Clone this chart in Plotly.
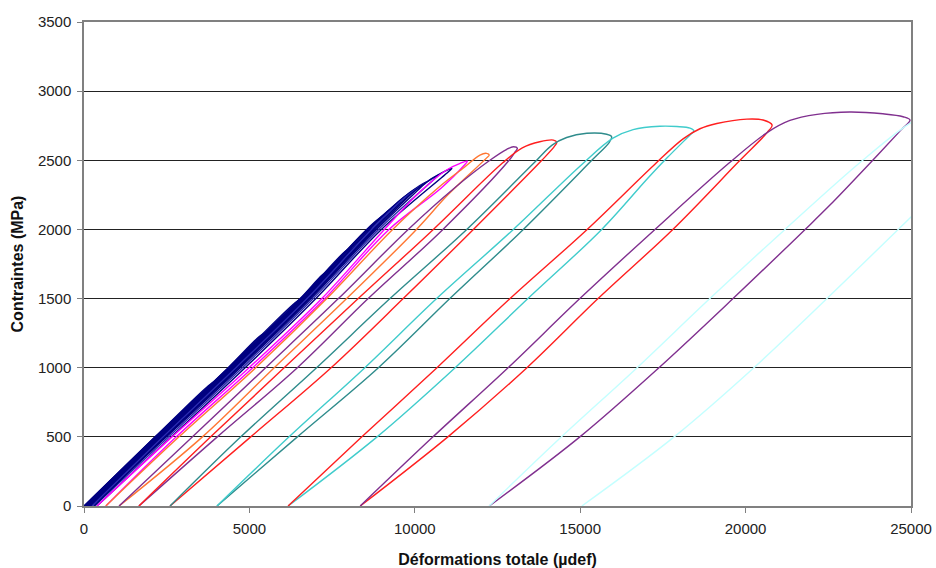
import plotly.graph_objects as go

# Cyclic loading / unloading curves: total strain (µdef) vs stress (MPa).
# Each cycle = reloading branch up to the peak, then unloading branch to the new residual strain.

# --- small early cycles (navy) ---
c01_eps = [0, 2150, 3760, 3940, 3880, 2260, 10]
c01_sig = [0, 500, 870, 900, 880, 500, 0]
c02_eps = [10, 2160, 4360, 5300, 5475, 5420, 4500, 2270, 20]
c02_sig = [0, 500, 1000, 1225, 1250, 1232, 1000, 500, 0]
c03_eps = [20, 2170, 4370, 6380, 6570, 6510, 4515, 2285, 35]
c03_sig = [0, 500, 1000, 1470, 1500, 1482, 1000, 500, 0]
c04_eps = [35, 2185, 4385, 6535, 7200, 7385, 7325, 6670, 4530, 2300, 50]
c04_sig = [0, 500, 1000, 1500, 1670, 1700, 1682, 1500, 1000, 500, 0]
c05_eps = [50, 2200, 4400, 6550, 7890, 8090, 8030, 6690, 4550, 2320, 70]
c05_sig = [0, 500, 1000, 1500, 1840, 1870, 1852, 1500, 1000, 500, 0]
c06_eps = [70, 2220, 4420, 6570, 8480, 8680, 8620, 6715, 4575, 2345, 95]
c06_sig = [0, 500, 1000, 1500, 1980, 2010, 1992, 1500, 1000, 500, 0]
c07_eps = [95, 2245, 4445, 6595, 8545, 8930, 9140, 9080, 8725, 6745, 4605, 2375, 125]
c07_sig = [0, 500, 1000, 1500, 2000, 2080, 2110, 2092, 2000, 1500, 1000, 500, 0]
c08_eps = [125, 2275, 4475, 6625, 8575, 9350, 9565, 9500, 8760, 6780, 4640, 2410, 160]
c08_sig = [0, 500, 1000, 1500, 2000, 2165, 2200, 2182, 2000, 1500, 1000, 500, 0]
c09_eps = [160, 2310, 4510, 6660, 8610, 9500, 9850, 10060, 9990, 8800, 6820, 4680, 2450, 200]
c09_sig = [0, 500, 1000, 1500, 2000, 2200, 2265, 2297, 2280, 2000, 1500, 1000, 500, 0]
c10_eps = [200, 2350, 4550, 6700, 8650, 9600, 10140, 10360, 10290, 8845, 6865, 4725, 2495, 245]
c10_sig = [0, 500, 1000, 1500, 2000, 2220, 2315, 2345, 2328, 2000, 1500, 1000, 500, 0]
c11_eps = [245, 2395, 4595, 6745, 8695, 9700, 10470, 10710, 10640, 8910, 6930, 4790, 2560, 310]
c11_sig = [0, 500, 1000, 1500, 2000, 2230, 2360, 2393, 2375, 2000, 1500, 1000, 500, 0]
c12_eps = [310, 2460, 4660, 6810, 8760, 9800, 10500, 10900, 11120, 11050, 8990, 7010, 4870, 2640, 390]
c12_sig = [0, 500, 1000, 1500, 2000, 2240, 2365, 2420, 2442, 2424, 2000, 1500, 1000, 500, 0]

# --- larger cycles ---
c13_eps = [390, 2660, 4990, 7190, 9080, 10150, 10960, 11370, 11590, 11480, 10800, 9220, 7280, 5100, 2790, 660]
c13_sig = [0, 500, 1000, 1500, 2000, 2270, 2430, 2478, 2494, 2460, 2300, 2000, 1500, 1000, 500, 0]
c14_eps = [660, 2870, 5190, 7340, 9330, 10700, 11500, 11970, 12170, 12250, 12150, 11000, 10050, 7940, 5750, 3580, 1060]
c14_sig = [0, 500, 1000, 1500, 2000, 2300, 2450, 2538, 2550, 2538, 2512, 2250, 2000, 1500, 1000, 500, 0]
c15_eps = [1060, 3280, 5490, 7690, 9800, 11200, 12270, 12780, 12980, 13100, 13030, 12850, 10850, 8590, 6450, 4030, 1660]
c15_sig = [0, 500, 1000, 1500, 2000, 2300, 2500, 2579, 2598, 2586, 2560, 2500, 2000, 1500, 1000, 500, 0]
c16_eps = [1660, 3830, 6050, 8290, 10560, 12650, 13250, 13780, 14190, 14290, 14220, 13840, 11770, 9650, 7470, 5040, 2600]
c16_sig = [0, 500, 1000, 1500, 2000, 2480, 2590, 2634, 2646, 2630, 2600, 2500, 2000, 1500, 1000, 500, 0]
c17_eps = [2600, 4740, 7030, 9250, 11570, 13600, 14150, 14590, 15200, 15800, 15950, 15880, 15350, 13280, 11060, 8900, 6450, 4020]
c17_sig = [0, 500, 1000, 1500, 2000, 2480, 2610, 2665, 2695, 2688, 2670, 2630, 2500, 2000, 1500, 1000, 500, 0]
c18_eps = [4020, 6200, 8490, 10660, 12980, 15050, 15990, 16600, 17410, 17920, 18320, 18440, 18320, 17620, 17050, 15650, 13420, 11220, 8860, 6170]
c18_sig = [0, 500, 1000, 1500, 2000, 2470, 2660, 2722, 2746, 2744, 2733, 2712, 2683, 2516, 2372, 2000, 1500, 1000, 500, 0]
c19_eps = [6170, 8400, 10670, 12880, 15210, 17250, 18110, 18620, 19130, 20040, 20530, 20800, 20650, 19830, 17800, 15540, 13390, 11000, 8350]
c19_sig = [0, 500, 1000, 1500, 2000, 2470, 2655, 2728, 2766, 2798, 2791, 2755, 2700, 2500, 2000, 1500, 1000, 500, 0]
c20_eps = [8350, 10550, 12820, 14990, 17260, 19500, 20650, 21340, 22160, 23150, 24150, 24760, 24970, 24700, 23850, 22550, 21800, 19620, 17380, 14990, 12250]
c20_sig = [0, 500, 1000, 1500, 2000, 2480, 2700, 2788, 2832, 2849, 2836, 2815, 2791, 2720, 2502, 2176, 2000, 1500, 1000, 500, 0]
c21_eps = [12250, 14330, 16720, 18920, 21190, 23550, 25030, 26000, 27000, 28000, 28600, 28400, 26780, 25000, 22460, 20250, 17840, 15050]
c21_sig = [0, 477, 1000, 1500, 2000, 2502, 2777, 2880, 2920, 2930, 2900, 2850, 2500, 2090, 1500, 1000, 500, 0]

cycles = [
    (c01_eps, c01_sig, "#000080"), (c02_eps, c02_sig, "#000080"),
    (c03_eps, c03_sig, "#000080"), (c04_eps, c04_sig, "#000080"),
    (c05_eps, c05_sig, "#000080"), (c06_eps, c06_sig, "#000080"),
    (c07_eps, c07_sig, "#000080"), (c08_eps, c08_sig, "#000080"),
    (c09_eps, c09_sig, "#000080"), (c10_eps, c10_sig, "#000080"),
    (c11_eps, c11_sig, "#2B2BB0"), (c12_eps, c12_sig, "#000080"),
    (c13_eps, c13_sig, "#FF00FF"), (c14_eps, c14_sig, "#FF7733"),
    (c15_eps, c15_sig, "#80308F"), (c16_eps, c16_sig, "#FF1F1F"),
    (c17_eps, c17_sig, "#2F8C8C"), (c18_eps, c18_sig, "#40CCCC"),
    (c19_eps, c19_sig, "#FF1F1F"), (c20_eps, c20_sig, "#80308F"),
    (c21_eps, c21_sig, "#C4FFFF"),
]

x_ticks = [0, 5000, 10000, 15000, 20000, 25000]
y_ticks = [0, 500, 1000, 1500, 2000, 2500, 3000, 3500]

fig = go.Figure()
for eps, sig, col in cycles:
    fig.add_trace(go.Scatter(
        x=eps, y=sig, mode="lines",
        line=dict(color=col, width=1.4, shape="spline", smoothing=1.0),
        hoverinfo="skip", showlegend=False,
    ))

FONT = "Liberation Sans, Arial, sans-serif"

fig.update_layout(
    width=936, height=568,
    margin=dict(l=84, r=25, t=22, b=62),
    paper_bgcolor="white", plot_bgcolor="white",
    font=dict(family=FONT, size=15, color="#222222"),
    showlegend=False,
)
fig.update_xaxes(
    range=[0, 25000], tickvals=x_ticks, tickformat="d", automargin=False,
    showgrid=False, zeroline=False,
    showline=True, linecolor="#808080", linewidth=1.5, mirror=True,
    ticks="outside", ticklen=5, tickcolor="#808080",
    tickfont=dict(family=FONT, size=15, color="#222222"),
    ticklabelstandoff=3,
    title=dict(text="<b>Déformations totale (µdef)</b>",
               font=dict(family=FONT, size=16, color="#111111"), standoff=18),
)
fig.update_yaxes(
    range=[0, 3500], tickvals=y_ticks, tickformat="d", automargin=False,
    showgrid=True, gridcolor="#222222", gridwidth=1, zeroline=False,
    showline=True, linecolor="#808080", linewidth=1.5, mirror=True,
    ticks="outside", ticklen=5, tickcolor="#808080",
    tickfont=dict(family=FONT, size=15, color="#222222"),
    ticklabelstandoff=3,
    title=dict(text="<b>Contraintes (MPa)</b>",
               font=dict(family=FONT, size=16, color="#111111"), standoff=10),
)

fig.write_html("out.html")
